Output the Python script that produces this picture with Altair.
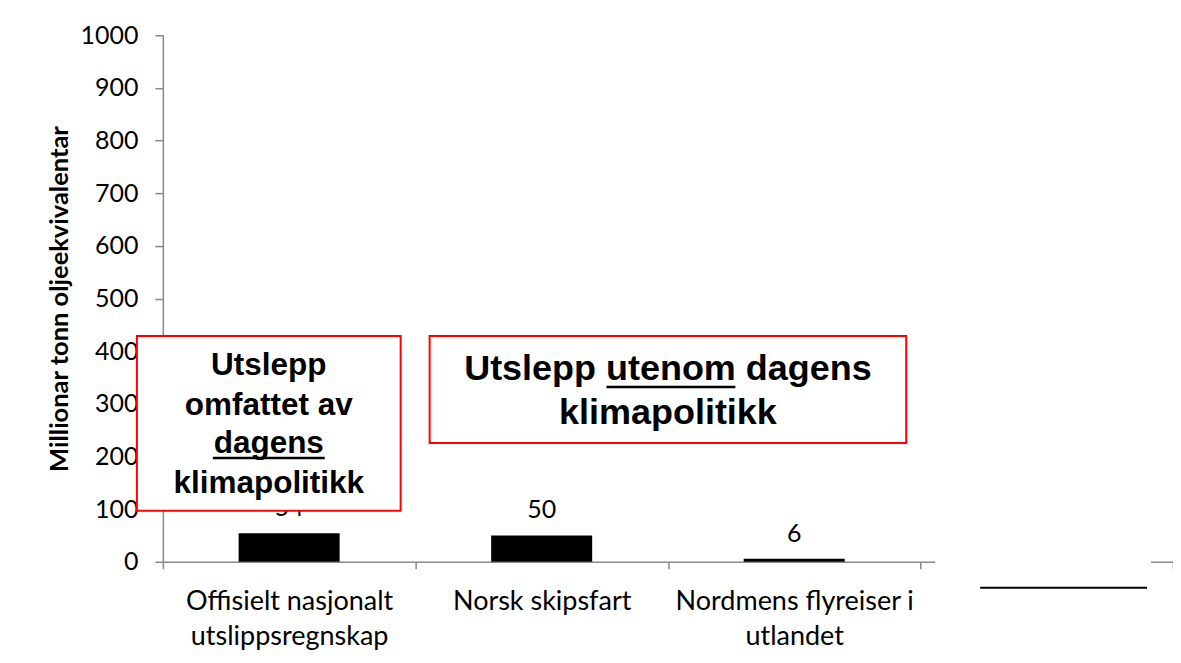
import altair as alt
import pandas as pd

# ---- data ----
categories = ["Offisielt nasjonalt|utslippsregnskap", "Norsk skipsfart",
              "Nordmens flyreiser i|utlandet", " "]
values = [54, 50, 6, None]
y_ticks = list(range(0, 1001, 100))
y_title = "Millionar tonn oljeekvivalentar"

box1_lines = ["Utslepp", "omfattet av", "dagens", "klimapolitikk"]
box2_lines = ["Utslepp utenom dagens", "klimapolitikk"]

W, H = 1011, 527
AXIS_GRAY = "#898989"

df = pd.DataFrame({"cat": categories, "value": values})
one = pd.DataFrame({"k": [0]})

x_enc = alt.X(
    "cat:N", sort=categories,
    scale=alt.Scale(domain=categories, paddingInner=0, paddingOuter=0),
    axis=alt.Axis(title=None, labelAngle=0, labelExpr="split(datum.label, '|')",
                  tickBand="extent", domainColor=AXIS_GRAY, tickColor=AXIS_GRAY,
                  domainWidth=1.5, tickWidth=1.5, tickSize=7, labelLimit=0,
                  labelFont="Lato", labelFontSize=27, labelColor="#000000",
                  labelPadding=20, labelLineHeight=35, labelBaseline="top"),
)
y_enc = alt.Y(
    "value:Q",
    scale=alt.Scale(domain=[0, 1000], nice=False),
    axis=alt.Axis(title=y_title, values=y_ticks, grid=False, format="d",
                  domainColor=AXIS_GRAY, tickColor=AXIS_GRAY, domainWidth=1.5,
                  tickWidth=1.5, tickSize=8, labelPadding=17,
                  labelFont="Lato", labelFontSize=25, labelColor="#000000",
                  titleFont="Lato", titleFontWeight="bold", titleFontSize=25.5,
                  titleColor="#000000", titlePadding=7),
)

bars = alt.Chart(df).mark_bar(color="#000000", width={"band": 0.4}).encode(x=x_enc, y=y_enc)
labels = alt.Chart(df).mark_text(font="Lato", fontSize=25, color="#000000",
                                 baseline="alphabetic", dy=-17).encode(
    x=alt.X("cat:N", sort=categories), y="value:Q", text="value:Q")

# white patch hiding part of the axis under the 4th category, and its line
cover = alt.Chart(one).mark_rect(color="#ffffff").encode(
    x=alt.value(773), x2=alt.value(989), y=alt.value(515), y2=alt.value(545))
hline = alt.Chart(one).mark_rule(color="#000000", strokeWidth=2).encode(
    x=alt.value(818), x2=alt.value(985), y=alt.value(553))

layers = [bars, labels, cover, hline]

# annotation box 1
layers.append(alt.Chart(one).mark_rect(fill="#ffffff", stroke="#ff0000", strokeWidth=2).encode(
    x=alt.value(-26), x2=alt.value(238), y=alt.value(301), y2=alt.value(476)))
for line, yb in zip(box1_lines, [340, 380, 418, 458]):
    layers.append(alt.Chart(one).mark_text(
        text=line, font="Liberation Sans", fontWeight="bold", fontSize=31.5,
        color="#000000", align="center", baseline="alphabetic").encode(
        x=alt.value(106), y=alt.value(yb)))
layers.append(alt.Chart(one).mark_rule(color="#000000", strokeWidth=2.5).encode(
    x=alt.value(50), x2=alt.value(162), y=alt.value(423)))

# annotation box 2
layers.append(alt.Chart(one).mark_rect(fill="#ffffff", stroke="#ff0000", strokeWidth=2).encode(
    x=alt.value(267), x2=alt.value(744), y=alt.value(301), y2=alt.value(408)))
for line, yb in zip(box2_lines, [345, 389]):
    layers.append(alt.Chart(one).mark_text(
        text=line, font="Liberation Sans", fontWeight="bold", fontSize=36,
        color="#000000", align="center", baseline="alphabetic").encode(
        x=alt.value(505.5), y=alt.value(yb)))
layers.append(alt.Chart(one).mark_rule(color="#000000", strokeWidth=2.5).encode(
    x=alt.value(444), x2=alt.value(573), y=alt.value(352)))

chart = alt.layer(*layers).properties(
    width=W, height=H,
    autosize=alt.AutoSizeParams(type="none"),
    padding={"left": 155, "top": 27, "right": 0, "bottom": 92},
    background="#ffffff",
).configure_view(stroke=None)

chart.save("out.html", embed_options={"renderer": "svg", "actions": False})
